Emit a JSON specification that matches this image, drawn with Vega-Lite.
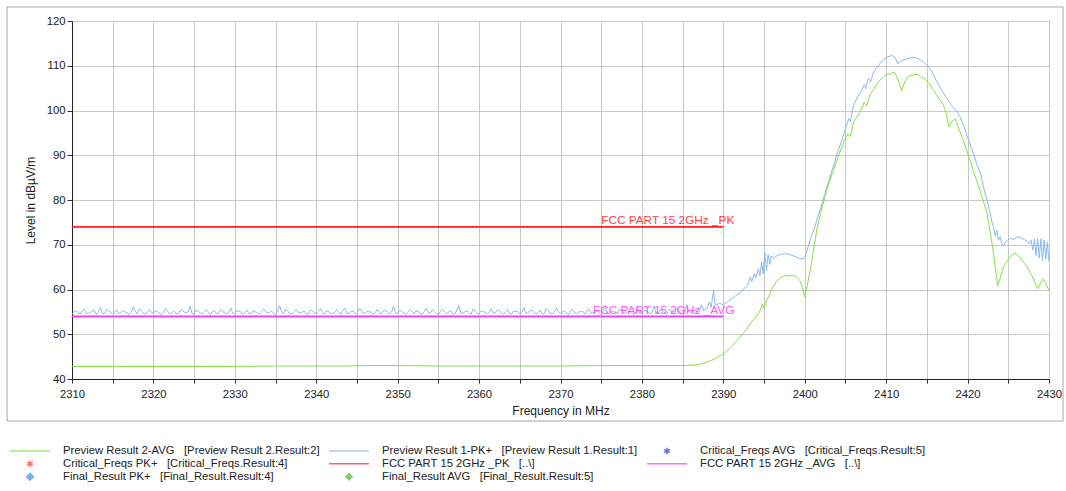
{
"$schema": "https://vega.github.io/schema/vega-lite/v6.json",
"width": 977, "height": 358,
"autosize": "none",
"padding": {"left": 72, "top": 21, "right": 17, "bottom": 112},
"background": "white",
"config": {"font": "Liberation Sans", "view": {"stroke": null},
  "axis": {"titleFontWeight": "normal", "titleColor": "#222", "labelColor": "#222", "gridColor": "#c8c8c8", "gridWidth": 1, "tickColor": "#333", "domainColor": "#222", "labelFontSize": 11.3, "titleFontSize": 12}},
"datasets": {
"curves": [
{"s":"P1","f":2310,"v":54.6},{"s":"P1","f":2310.5,"v":55.3},{"s":"P1","f":2311,"v":54.5},{"s":"P1","f":2311.5,"v":55.6},{"s":"P1","f":2312,"v":54.7},{"s":"P1","f":2312.5,"v":55.1},{"s":"P1","f":2313,"v":54.4},{"s":"P1","f":2313.5,"v":55.9},{"s":"P1","f":2314,"v":54.6},{"s":"P1","f":2314.5,"v":55.2},
{"s":"P1","f":2315,"v":54.5},{"s":"P1","f":2315.5,"v":55.4},{"s":"P1","f":2316,"v":54.8},{"s":"P1","f":2316.5,"v":55.0},{"s":"P1","f":2317,"v":54.4},{"s":"P1","f":2317.5,"v":56.1},{"s":"P1","f":2318,"v":54.6},{"s":"P1","f":2318.5,"v":55.3},{"s":"P1","f":2319,"v":54.5},{"s":"P1","f":2319.5,"v":55.5},
{"s":"P1","f":2320,"v":54.7},{"s":"P1","f":2320.5,"v":55.1},{"s":"P1","f":2321,"v":54.4},{"s":"P1","f":2321.5,"v":55.7},{"s":"P1","f":2322,"v":54.6},{"s":"P1","f":2322.5,"v":55.2},{"s":"P1","f":2323,"v":54.5},{"s":"P1","f":2323.5,"v":55.4},{"s":"P1","f":2324,"v":54.8},{"s":"P1","f":2324.5,"v":56.2},
{"s":"P1","f":2325,"v":54.5},{"s":"P1","f":2325.5,"v":55.1},{"s":"P1","f":2326,"v":54.6},{"s":"P1","f":2326.5,"v":55.5},{"s":"P1","f":2327,"v":54.4},{"s":"P1","f":2327.5,"v":55.3},{"s":"P1","f":2328,"v":54.7},{"s":"P1","f":2328.5,"v":55.0},{"s":"P1","f":2329,"v":54.5},{"s":"P1","f":2329.5,"v":55.8},
{"s":"P1","f":2330,"v":54.6},{"s":"P1","f":2330.5,"v":55.2},{"s":"P1","f":2331,"v":54.4},{"s":"P1","f":2331.5,"v":55.4},{"s":"P1","f":2332,"v":54.7},{"s":"P1","f":2332.5,"v":55.1},{"s":"P1","f":2333,"v":54.5},{"s":"P1","f":2333.5,"v":55.6},{"s":"P1","f":2334,"v":54.8},{"s":"P1","f":2334.5,"v":55.2},
{"s":"P1","f":2335,"v":54.4},{"s":"P1","f":2335.5,"v":56.4},{"s":"P1","f":2336,"v":54.6},{"s":"P1","f":2336.5,"v":55.1},{"s":"P1","f":2337,"v":54.5},{"s":"P1","f":2337.5,"v":55.5},{"s":"P1","f":2338,"v":54.7},{"s":"P1","f":2338.5,"v":55.2},{"s":"P1","f":2339,"v":54.4},{"s":"P1","f":2339.5,"v":55.3},
{"s":"P1","f":2340,"v":54.6},{"s":"P1","f":2340.5,"v":55.7},{"s":"P1","f":2341,"v":54.5},{"s":"P1","f":2341.5,"v":55.1},{"s":"P1","f":2342,"v":54.7},{"s":"P1","f":2342.5,"v":55.4},{"s":"P1","f":2343,"v":54.4},{"s":"P1","f":2343.5,"v":55.9},{"s":"P1","f":2344,"v":54.6},{"s":"P1","f":2344.5,"v":55.2},
{"s":"P1","f":2345,"v":54.5},{"s":"P1","f":2345.5,"v":55.5},{"s":"P1","f":2346,"v":54.8},{"s":"P1","f":2346.5,"v":55.0},{"s":"P1","f":2347,"v":54.4},{"s":"P1","f":2347.5,"v":55.6},{"s":"P1","f":2348,"v":54.6},{"s":"P1","f":2348.5,"v":55.3},{"s":"P1","f":2349,"v":54.5},{"s":"P1","f":2349.5,"v":56.2},
{"s":"P1","f":2350,"v":54.7},{"s":"P1","f":2350.5,"v":55.1},{"s":"P1","f":2351,"v":54.4},{"s":"P1","f":2351.5,"v":55.4},{"s":"P1","f":2352,"v":54.6},{"s":"P1","f":2352.5,"v":55.2},{"s":"P1","f":2353,"v":54.5},{"s":"P1","f":2353.5,"v":55.8},{"s":"P1","f":2354,"v":54.7},{"s":"P1","f":2354.5,"v":55.1},
{"s":"P1","f":2355,"v":54.4},{"s":"P1","f":2355.5,"v":55.5},{"s":"P1","f":2356,"v":54.6},{"s":"P1","f":2356.5,"v":55.3},{"s":"P1","f":2357,"v":54.5},{"s":"P1","f":2357.5,"v":56.5},{"s":"P1","f":2358,"v":54.7},{"s":"P1","f":2358.5,"v":55.2},{"s":"P1","f":2359,"v":54.4},{"s":"P1","f":2359.5,"v":55.4},
{"s":"P1","f":2360,"v":54.6},{"s":"P1","f":2360.5,"v":55.0},{"s":"P1","f":2361,"v":54.5},{"s":"P1","f":2361.5,"v":55.7},{"s":"P1","f":2362,"v":54.8},{"s":"P1","f":2362.5,"v":55.2},{"s":"P1","f":2363,"v":54.4},{"s":"P1","f":2363.5,"v":55.5},{"s":"P1","f":2364,"v":54.6},{"s":"P1","f":2364.5,"v":55.1},
{"s":"P1","f":2365,"v":54.5},{"s":"P1","f":2365.5,"v":56.0},{"s":"P1","f":2366,"v":54.7},{"s":"P1","f":2366.5,"v":55.3},{"s":"P1","f":2367,"v":54.4},{"s":"P1","f":2367.5,"v":55.4},{"s":"P1","f":2368,"v":54.6},{"s":"P1","f":2368.5,"v":55.1},{"s":"P1","f":2369,"v":54.5},{"s":"P1","f":2369.5,"v":55.8},
{"s":"P1","f":2370,"v":54.7},{"s":"P1","f":2370.5,"v":55.2},{"s":"P1","f":2371,"v":54.4},{"s":"P1","f":2371.5,"v":55.5},{"s":"P1","f":2372,"v":54.6},{"s":"P1","f":2372.5,"v":55.0},{"s":"P1","f":2373,"v":54.5},{"s":"P1","f":2373.5,"v":55.6},{"s":"P1","f":2374,"v":54.8},{"s":"P1","f":2374.5,"v":55.3},
{"s":"P1","f":2375,"v":54.4},{"s":"P1","f":2375.5,"v":56.1},{"s":"P1","f":2376,"v":54.6},{"s":"P1","f":2376.5,"v":55.2},{"s":"P1","f":2377,"v":54.5},{"s":"P1","f":2377.5,"v":55.4},{"s":"P1","f":2378,"v":54.7},{"s":"P1","f":2378.5,"v":55.1},{"s":"P1","f":2379,"v":54.4},{"s":"P1","f":2379.5,"v":55.7},
{"s":"P1","f":2380,"v":54.6},{"s":"P1","f":2380.5,"v":55.3},{"s":"P1","f":2381,"v":54.5},{"s":"P1","f":2381.5,"v":56.3},{"s":"P1","f":2382,"v":54.7},{"s":"P1","f":2382.5,"v":55.2},{"s":"P1","f":2383,"v":54.4},{"s":"P1","f":2383.5,"v":55.6},{"s":"P1","f":2384,"v":54.6},{"s":"P1","f":2384.5,"v":55.4},
{"s":"P1","f":2385,"v":54.5},{"s":"P1","f":2385.5,"v":56.6},{"s":"P1","f":2386,"v":54.8},{"s":"P1","f":2386.5,"v":55.4},{"s":"P1","f":2387,"v":54.9},{"s":"P1","f":2387.3,"v":56.6},{"s":"P1","f":2387.6,"v":55.2},{"s":"P1","f":2388,"v":55.8},{"s":"P1","f":2388.3,"v":57.2},{"s":"P1","f":2388.5,"v":56.0},
{"s":"P1","f":2388.8,"v":59.8},{"s":"P1","f":2389,"v":56.4},{"s":"P1","f":2389.5,"v":56.9},{"s":"P1","f":2390,"v":56.6},{"s":"P1","f":2390.5,"v":57.3},{"s":"P1","f":2391,"v":57.9},{"s":"P1","f":2391.5,"v":58.6},{"s":"P1","f":2392,"v":59.2},{"s":"P1","f":2392.5,"v":60.1},{"s":"P1","f":2393,"v":61.0},
{"s":"P1","f":2393.3,"v":62.8},{"s":"P1","f":2393.5,"v":61.8},{"s":"P1","f":2393.8,"v":63.6},{"s":"P1","f":2394,"v":62.6},{"s":"P1","f":2394.3,"v":64.6},{"s":"P1","f":2394.5,"v":63.0},{"s":"P1","f":2394.7,"v":66.2},{"s":"P1","f":2394.9,"v":63.5},{"s":"P1","f":2395.1,"v":68.3},{"s":"P1","f":2395.3,"v":64.2},
{"s":"P1","f":2395.5,"v":67.8},{"s":"P1","f":2395.7,"v":65.6},{"s":"P1","f":2395.9,"v":67.5},{"s":"P1","f":2396.2,"v":67.0},{"s":"P1","f":2396.6,"v":67.6},{"s":"P1","f":2397,"v":67.8},{"s":"P1","f":2397.5,"v":68.0},{"s":"P1","f":2398,"v":67.9},{"s":"P1","f":2398.5,"v":67.6},{"s":"P1","f":2399,"v":67.2},
{"s":"P1","f":2399.4,"v":66.9},{"s":"P1","f":2399.8,"v":66.8},{"s":"P1","f":2400.1,"v":67.6},{"s":"P1","f":2400.4,"v":69.5},{"s":"P1","f":2400.8,"v":71.8},{"s":"P1","f":2401.2,"v":73.8},{"s":"P1","f":2401.6,"v":76.2},{"s":"P1","f":2402,"v":78.5},{"s":"P1","f":2402.4,"v":81.0},{"s":"P1","f":2402.8,"v":83.4},
{"s":"P1","f":2403.2,"v":85.8},{"s":"P1","f":2403.6,"v":88.0},{"s":"P1","f":2404,"v":90.5},{"s":"P1","f":2404.4,"v":92.5},{"s":"P1","f":2404.8,"v":94.8},{"s":"P1","f":2405.2,"v":97.0},{"s":"P1","f":2405.4,"v":98.2},{"s":"P1","f":2405.6,"v":97.5},{"s":"P1","f":2406,"v":101.2},{"s":"P1","f":2406.5,"v":103.0},
{"s":"P1","f":2407,"v":104.5},{"s":"P1","f":2407.3,"v":105.8},{"s":"P1","f":2407.5,"v":104.9},{"s":"P1","f":2407.8,"v":107.2},{"s":"P1","f":2408.1,"v":106.4},{"s":"P1","f":2408.4,"v":108.3},{"s":"P1","f":2408.8,"v":109.5},{"s":"P1","f":2409.2,"v":110.4},{"s":"P1","f":2409.7,"v":111.4},{"s":"P1","f":2410.2,"v":112.0},
{"s":"P1","f":2410.7,"v":112.3},{"s":"P1","f":2411.1,"v":111.9},{"s":"P1","f":2411.4,"v":110.5},{"s":"P1","f":2411.8,"v":111.0},{"s":"P1","f":2412.2,"v":111.4},{"s":"P1","f":2412.7,"v":111.6},{"s":"P1","f":2413.2,"v":111.9},{"s":"P1","f":2413.6,"v":111.8},{"s":"P1","f":2414.1,"v":111.4},{"s":"P1","f":2414.6,"v":110.8},
{"s":"P1","f":2415,"v":110.1},{"s":"P1","f":2415.4,"v":109.3},{"s":"P1","f":2415.8,"v":108.0},{"s":"P1","f":2416.2,"v":106.5},{"s":"P1","f":2416.6,"v":105.2},{"s":"P1","f":2417,"v":104.0},{"s":"P1","f":2417.5,"v":102.6},{"s":"P1","f":2417.9,"v":101.4},{"s":"P1","f":2418.3,"v":100.6},{"s":"P1","f":2418.7,"v":99.7},
{"s":"P1","f":2419.1,"v":98.5},{"s":"P1","f":2419.5,"v":96.8},{"s":"P1","f":2419.9,"v":94.5},{"s":"P1","f":2420.3,"v":92.5},{"s":"P1","f":2420.7,"v":90.5},{"s":"P1","f":2421.1,"v":88.2},{"s":"P1","f":2421.6,"v":85.8},{"s":"P1","f":2422,"v":82.6},{"s":"P1","f":2422.4,"v":79.8},{"s":"P1","f":2422.8,"v":76.9},
{"s":"P1","f":2423,"v":75.0},{"s":"P1","f":2423.2,"v":73.8},{"s":"P1","f":2423.4,"v":72.0},{"s":"P1","f":2423.6,"v":73.2},{"s":"P1","f":2423.8,"v":71.0},{"s":"P1","f":2424,"v":71.8},{"s":"P1","f":2424.2,"v":70.2},{"s":"P1","f":2424.4,"v":69.8},{"s":"P1","f":2424.7,"v":70.6},{"s":"P1","f":2425,"v":71.1},
{"s":"P1","f":2425.3,"v":71.4},{"s":"P1","f":2425.7,"v":71.2},{"s":"P1","f":2426.1,"v":71.8},{"s":"P1","f":2426.5,"v":71.6},{"s":"P1","f":2426.9,"v":71.2},{"s":"P1","f":2427.3,"v":70.8},{"s":"P1","f":2427.6,"v":70.2},{"s":"P1","f":2427.8,"v":71.0},{"s":"P1","f":2428,"v":68.8},{"s":"P1","f":2428.2,"v":71.2},
{"s":"P1","f":2428.4,"v":67.6},{"s":"P1","f":2428.6,"v":71.4},{"s":"P1","f":2428.8,"v":67.0},{"s":"P1","f":2429,"v":71.3},{"s":"P1","f":2429.2,"v":66.4},{"s":"P1","f":2429.4,"v":71.0},{"s":"P1","f":2429.6,"v":66.8},{"s":"P1","f":2429.8,"v":70.6},{"s":"P1","f":2430,"v":66.2},
{"s":"P1","f":2310.25,"v":55.0},{"s":"P1","f":2310.75,"v":54.8},{"s":"P1","f":2311.25,"v":55.2},{"s":"P1","f":2311.75,"v":54.6},{"s":"P1","f":2312.25,"v":54.9},{"s":"P1","f":2312.75,"v":55.4},{"s":"P1","f":2313.25,"v":55.1},{"s":"P1","f":2313.75,"v":54.7},{"s":"P1","f":2314.25,"v":55.5},{"s":"P1","f":2314.75,"v":54.9},
{"s":"P1","f":2315.25,"v":55.0},{"s":"P1","f":2315.75,"v":54.6},{"s":"P1","f":2316.25,"v":55.3},{"s":"P1","f":2316.75,"v":54.8},{"s":"P1","f":2317.25,"v":54.9},{"s":"P1","f":2317.75,"v":55.2},{"s":"P1","f":2318.25,"v":55.6},{"s":"P1","f":2318.75,"v":54.7},{"s":"P1","f":2319.25,"v":55.0},{"s":"P1","f":2319.75,"v":54.9},
{"s":"P1","f":2320.25,"v":55.3},{"s":"P1","f":2320.75,"v":54.6},{"s":"P1","f":2321.25,"v":55.0},{"s":"P1","f":2321.75,"v":55.1},{"s":"P1","f":2322.25,"v":54.8},{"s":"P1","f":2322.75,"v":54.7},{"s":"P1","f":2323.25,"v":55.2},{"s":"P1","f":2323.75,"v":55.0},{"s":"P1","f":2324.25,"v":55.0},{"s":"P1","f":2324.75,"v":54.6},
{"s":"P1","f":2325.25,"v":55.4},{"s":"P1","f":2325.75,"v":54.8},{"s":"P1","f":2326.25,"v":54.9},{"s":"P1","f":2326.75,"v":55.0},{"s":"P1","f":2327.25,"v":55.1},{"s":"P1","f":2327.75,"v":54.6},{"s":"P1","f":2328.25,"v":55.5},{"s":"P1","f":2328.75,"v":54.9},{"s":"P1","f":2329.25,"v":55.0},{"s":"P1","f":2329.75,"v":54.7},
{"s":"P1","f":2330.25,"v":55.2},{"s":"P1","f":2330.75,"v":55.0},{"s":"P1","f":2331.25,"v":54.9},{"s":"P1","f":2331.75,"v":54.6},{"s":"P1","f":2332.25,"v":55.3},{"s":"P1","f":2332.75,"v":54.8},{"s":"P1","f":2333.25,"v":55.0},{"s":"P1","f":2333.75,"v":55.1},{"s":"P1","f":2334.25,"v":54.8},{"s":"P1","f":2334.75,"v":54.6},
{"s":"P1","f":2335.25,"v":55.2},{"s":"P1","f":2335.75,"v":54.9},{"s":"P1","f":2336.25,"v":55.6},{"s":"P1","f":2336.75,"v":54.7},{"s":"P1","f":2337.25,"v":55.0},{"s":"P1","f":2337.75,"v":55.0},{"s":"P1","f":2338.25,"v":54.9},{"s":"P1","f":2338.75,"v":54.6},{"s":"P1","f":2339.25,"v":55.4},{"s":"P1","f":2339.75,"v":54.8},
{"s":"P1","f":2340.25,"v":55.1},{"s":"P1","f":2340.75,"v":54.9},{"s":"P1","f":2341.25,"v":55.3},{"s":"P1","f":2341.75,"v":54.6},{"s":"P1","f":2342.25,"v":54.9},{"s":"P1","f":2342.75,"v":55.0},{"s":"P1","f":2343.25,"v":55.2},{"s":"P1","f":2343.75,"v":54.7},{"s":"P1","f":2344.25,"v":55.0},{"s":"P1","f":2344.75,"v":54.8},
{"s":"P1","f":2345.25,"v":55.7},{"s":"P1","f":2345.75,"v":54.6},{"s":"P1","f":2346.25,"v":55.1},{"s":"P1","f":2346.75,"v":55.0},{"s":"P1","f":2347.25,"v":54.9},{"s":"P1","f":2347.75,"v":54.7},{"s":"P1","f":2348.25,"v":55.3},{"s":"P1","f":2348.75,"v":54.9},{"s":"P1","f":2349.25,"v":55.0},{"s":"P1","f":2349.75,"v":54.6},
{"s":"P1","f":2350.25,"v":55.4},{"s":"P1","f":2350.75,"v":54.8},{"s":"P1","f":2351.25,"v":54.9},{"s":"P1","f":2351.75,"v":55.1},{"s":"P1","f":2352.25,"v":55.2},{"s":"P1","f":2352.75,"v":54.6},{"s":"P1","f":2353.25,"v":55.0},{"s":"P1","f":2353.75,"v":54.9},{"s":"P1","f":2354.25,"v":55.5},{"s":"P1","f":2354.75,"v":54.7},
{"s":"P1","f":2355.25,"v":55.1},{"s":"P1","f":2355.75,"v":55.0},{"s":"P1","f":2356.25,"v":54.9},{"s":"P1","f":2356.75,"v":54.6},{"s":"P1","f":2357.25,"v":55.3},{"s":"P1","f":2357.75,"v":54.8},{"s":"P1","f":2358.25,"v":55.0},{"s":"P1","f":2358.75,"v":54.9},{"s":"P1","f":2359.25,"v":55.6},{"s":"P1","f":2359.75,"v":54.6},
{"s":"P1","f":2360.25,"v":55.2},{"s":"P1","f":2360.75,"v":55.0},{"s":"P1","f":2361.25,"v":54.9},{"s":"P1","f":2361.75,"v":54.7},{"s":"P1","f":2362.25,"v":55.4},{"s":"P1","f":2362.75,"v":54.8},{"s":"P1","f":2363.25,"v":55.0},{"s":"P1","f":2363.75,"v":54.6},{"s":"P1","f":2364.25,"v":55.2},{"s":"P1","f":2364.75,"v":55.1},
{"s":"P1","f":2365.25,"v":54.9},{"s":"P1","f":2365.75,"v":54.7},{"s":"P1","f":2366.25,"v":55.3},{"s":"P1","f":2366.75,"v":54.9},{"s":"P1","f":2367.25,"v":55.0},{"s":"P1","f":2367.75,"v":54.6},{"s":"P1","f":2368.25,"v":55.7},{"s":"P1","f":2368.75,"v":54.8},{"s":"P1","f":2369.25,"v":55.1},{"s":"P1","f":2369.75,"v":55.0},
{"s":"P1","f":2370.25,"v":54.9},{"s":"P1","f":2370.75,"v":54.6},{"s":"P1","f":2371.25,"v":55.3},{"s":"P1","f":2371.75,"v":54.8},{"s":"P1","f":2372.25,"v":55.0},{"s":"P1","f":2372.75,"v":55.1},{"s":"P1","f":2373.25,"v":55.2},{"s":"P1","f":2373.75,"v":54.7},{"s":"P1","f":2374.25,"v":54.9},{"s":"P1","f":2374.75,"v":54.9},
{"s":"P1","f":2375.25,"v":55.4},{"s":"P1","f":2375.75,"v":54.6},{"s":"P1","f":2376.25,"v":55.0},{"s":"P1","f":2376.75,"v":55.0},{"s":"P1","f":2377.25,"v":55.6},{"s":"P1","f":2377.75,"v":54.7},{"s":"P1","f":2378.25,"v":55.1},{"s":"P1","f":2378.75,"v":54.8},{"s":"P1","f":2379.25,"v":54.9},{"s":"P1","f":2379.75,"v":54.6},
{"s":"P1","f":2380.25,"v":55.3},{"s":"P1","f":2380.75,"v":55.0},{"s":"P1","f":2381.25,"v":55.0},{"s":"P1","f":2381.75,"v":54.7},{"s":"P1","f":2382.25,"v":55.5},{"s":"P1","f":2382.75,"v":54.9},{"s":"P1","f":2383.25,"v":55.1},{"s":"P1","f":2383.75,"v":54.6},{"s":"P1","f":2384.25,"v":55.8},{"s":"P1","f":2384.75,"v":54.8},
{"s":"P1","f":2385.25,"v":55.2},{"s":"P1","f":2385.75,"v":55.1},
{"s":"P2","f":2310,"v":42.8},{"s":"P2","f":2315,"v":42.8},{"s":"P2","f":2320,"v":42.8},{"s":"P2","f":2325,"v":42.8},{"s":"P2","f":2330,"v":42.8},{"s":"P2","f":2335,"v":42.9},{"s":"P2","f":2340,"v":42.9},{"s":"P2","f":2344,"v":42.9},{"s":"P2","f":2346,"v":43.0},{"s":"P2","f":2350,"v":43.0},
{"s":"P2","f":2355,"v":42.9},{"s":"P2","f":2360,"v":42.9},{"s":"P2","f":2365,"v":42.9},{"s":"P2","f":2370,"v":42.9},{"s":"P2","f":2375,"v":43.0},{"s":"P2","f":2380,"v":43.0},{"s":"P2","f":2385,"v":43.0},{"s":"P2","f":2386,"v":43.1},{"s":"P2","f":2387,"v":43.2},{"s":"P2","f":2388,"v":43.8},
{"s":"P2","f":2389,"v":44.5},{"s":"P2","f":2390,"v":45.6},{"s":"P2","f":2391,"v":47.2},{"s":"P2","f":2391.5,"v":48.3},{"s":"P2","f":2392,"v":49.2},{"s":"P2","f":2392.5,"v":50.3},{"s":"P2","f":2393,"v":51.5},{"s":"P2","f":2393.5,"v":52.8},{"s":"P2","f":2394,"v":53.9},{"s":"P2","f":2394.5,"v":55.2},
{"s":"P2","f":2394.8,"v":56.8},{"s":"P2","f":2395,"v":55.8},{"s":"P2","f":2395.3,"v":57.5},{"s":"P2","f":2395.6,"v":58.6},{"s":"P2","f":2396,"v":60.2},{"s":"P2","f":2396.5,"v":61.8},{"s":"P2","f":2397,"v":62.6},{"s":"P2","f":2397.5,"v":63.1},{"s":"P2","f":2398,"v":63.0},{"s":"P2","f":2398.5,"v":63.2},
{"s":"P2","f":2399,"v":62.8},{"s":"P2","f":2399.4,"v":62.0},{"s":"P2","f":2399.7,"v":60.5},{"s":"P2","f":2400,"v":58.3},{"s":"P2","f":2400.3,"v":60.8},{"s":"P2","f":2400.7,"v":64.5},{"s":"P2","f":2401,"v":68.0},{"s":"P2","f":2401.5,"v":73.5},{"s":"P2","f":2402,"v":77.5},{"s":"P2","f":2402.5,"v":80.8},
{"s":"P2","f":2403,"v":84.0},{"s":"P2","f":2403.5,"v":86.5},{"s":"P2","f":2404,"v":89.2},{"s":"P2","f":2404.5,"v":91.5},{"s":"P2","f":2405,"v":93.8},{"s":"P2","f":2405.3,"v":94.8},{"s":"P2","f":2405.6,"v":94.2},{"s":"P2","f":2406,"v":97.5},{"s":"P2","f":2406.5,"v":98.8},{"s":"P2","f":2407,"v":100.5},
{"s":"P2","f":2407.3,"v":101.8},{"s":"P2","f":2407.6,"v":101.0},{"s":"P2","f":2408,"v":103.5},{"s":"P2","f":2408.5,"v":104.8},{"s":"P2","f":2409,"v":106.2},{"s":"P2","f":2409.5,"v":107.3},{"s":"P2","f":2410,"v":108.0},{"s":"P2","f":2410.5,"v":108.2},{"s":"P2","f":2411,"v":108.6},{"s":"P2","f":2411.5,"v":106.8},
{"s":"P2","f":2411.9,"v":104.4},{"s":"P2","f":2412.3,"v":106.5},{"s":"P2","f":2412.7,"v":107.6},{"s":"P2","f":2413.2,"v":107.9},{"s":"P2","f":2413.8,"v":108.1},{"s":"P2","f":2414.3,"v":107.5},{"s":"P2","f":2414.8,"v":107.0},{"s":"P2","f":2415.3,"v":106.0},{"s":"P2","f":2415.8,"v":104.4},{"s":"P2","f":2416.3,"v":103.2},
{"s":"P2","f":2417,"v":101.4},{"s":"P2","f":2417.4,"v":99.2},{"s":"P2","f":2417.7,"v":96.4},{"s":"P2","f":2418.1,"v":97.6},{"s":"P2","f":2418.5,"v":98.1},{"s":"P2","f":2419,"v":95.5},{"s":"P2","f":2419.5,"v":93.2},{"s":"P2","f":2420,"v":90.5},{"s":"P2","f":2420.5,"v":87.7},{"s":"P2","f":2421,"v":84.9},
{"s":"P2","f":2421.5,"v":82.3},{"s":"P2","f":2422,"v":79.4},{"s":"P2","f":2422.4,"v":76.9},{"s":"P2","f":2422.8,"v":72.5},{"s":"P2","f":2423.2,"v":68.0},{"s":"P2","f":2423.5,"v":63.5},{"s":"P2","f":2423.7,"v":60.9},{"s":"P2","f":2424,"v":62.5},{"s":"P2","f":2424.4,"v":65.0},{"s":"P2","f":2425,"v":66.8},
{"s":"P2","f":2425.5,"v":67.8},{"s":"P2","f":2425.9,"v":68.1},{"s":"P2","f":2426.4,"v":67.2},{"s":"P2","f":2426.9,"v":66.0},{"s":"P2","f":2427.3,"v":65.1},{"s":"P2","f":2427.8,"v":63.5},{"s":"P2","f":2428.3,"v":61.5},{"s":"P2","f":2428.6,"v":60.2},{"s":"P2","f":2429,"v":61.5},{"s":"P2","f":2429.3,"v":62.4},
{"s":"P2","f":2429.6,"v":61.3},{"s":"P2","f":2430,"v":59.8}
],
"limits": [
{"s":"FPK","name":"FCC PART 15 2GHz _PK","f0":2310,"f1":2390,"v":74},
{"s":"FAVG","name":"FCC PART 15 2GHz _AVG","f0":2310,"f1":2390,"v":54}
],
"finals": []
},
"layer": [
{
 "data": {"values": [{}]},
 "mark": {"type": "rect", "filled": false, "color": "#a8a8a8", "strokeWidth": 1},
 "encoding": {
  "x": {"datum": 2302.02, "type": "quantitative"},
  "x2": {"datum": 2431.72},
  "y": {"datum": 123.13, "type": "quantitative"},
  "y2": {"datum": 30.61}
 }
},
{
 "data": {"name": "curves"},
 "mark": {"type": "line", "strokeWidth": 1, "interpolate": "linear"},
 "encoding": {
  "x": {"field": "f", "type": "quantitative",
    "scale": {"domain": [2310, 2430], "nice": false, "zero": false},
    "axis": {"title": "Frequency in MHz", "values": [2310,2315,2320,2325,2330,2335,2340,2345,2350,2355,2360,2365,2370,2375,2380,2385,2390,2395,2400,2405,2410,2415,2420,2425,2430],
      "labelExpr": "datum.value % 10 === 0 ? datum.label : ''", "format": "d", "labelFlush": false, "labelOverlap": false, "grid": true, "tickSize": 4, "labelPadding": 5, "titlePadding": 6}},
  "y": {"field": "v", "type": "quantitative",
    "scale": {"domain": [40, 120], "nice": false, "zero": false},
    "axis": {"title": "Level in dBµV/m", "values": [40,45,50,55,60,65,70,75,80,85,90,95,100,105,110,115,120],
      "labelExpr": "datum.value % 10 === 0 ? datum.label : ''", "format": "d", "labelFlush": false, "labelOverlap": false, "grid": true, "tickSize": 5, "labelPadding": 2, "titlePadding": 9}},
  "color": {"field": "s", "type": "nominal", "title": null},
  "order": {"field": "f", "type": "quantitative"}
 }
},
{
 "data": {"name": "limits"},
 "mark": {"type": "rule", "strokeWidth": 1.8},
 "encoding": {
  "x": {"field": "f0", "type": "quantitative"},
  "x2": {"field": "f1"},
  "y": {"field": "v", "type": "quantitative"},
  "color": {"field": "s", "type": "nominal", "title": null}
 }
},
{
 "data": {"name": "limits"},
 "mark": {"type": "text", "align": "right", "baseline": "alphabetic", "dx": 11, "dy": -2.5, "fontSize": 11.8, "opacity": 0.85},
 "encoding": {
  "x": {"field": "f1", "type": "quantitative"},
  "y": {"field": "v", "type": "quantitative"},
  "text": {"field": "name"},
  "color": {"field": "s", "type": "nominal", "title": null}
 }
},
{
 "data": {"name": "finals"},
 "mark": {"type": "point", "filled": true},
 "encoding": {
  "x": {"field": "f", "type": "quantitative"},
  "y": {"field": "v", "type": "quantitative"},
  "color": {"field": "s", "type": "nominal", "title": null,
    "scale": {"domain": ["P2","CFP","FRP","P1","FPK","FRA","CFA","FAVG"],
              "range": ["#84e046","#ff2a2a","#3a8fe0","#88b9f0","#ff2020","#55b52e","#2a2ad8","#ff33ff"]},
    "legend": {"orient": "none", "legendX": -63, "legendY": 424, "columns": 3, "clipHeight": 11.5, "rowPadding": 0, "columnPadding": 8,
      "labelOffset": 12, "labelLimit": 500, "labelFontSize": 11.3, "labelColor": "#222", "title": null,
      "labelExpr": "datum.value === 'P2' ? 'Preview Result 2-AVG\u00a0\u00a0\u00a0[Preview Result 2.Result:2]' : datum.value === 'P1' ? 'Preview Result 1-PK+\u00a0\u00a0\u00a0[Preview Result 1.Result:1]' : datum.value === 'CFA' ? 'Critical_Freqs AVG\u00a0\u00a0\u00a0[Critical_Freqs.Result:5]' : datum.value === 'CFP' ? 'Critical_Freqs PK+\u00a0\u00a0\u00a0[Critical_Freqs.Result:4]' : datum.value === 'FPK' ? 'FCC PART 15 2GHz _PK\u00a0\u00a0\u00a0[..\\\\]' : datum.value === 'FAVG' ? 'FCC PART 15 2GHz _AVG\u00a0\u00a0\u00a0[..\\\\]' : datum.value === 'FRP' ? 'Final_Result PK+\u00a0\u00a0\u00a0[Final_Result.Result:4]' : 'Final_Result AVG\u00a0\u00a0\u00a0[Final_Result.Result:5]'",
      "encoding": {"symbols": {"update": {
        "fill": {"scale": "color", "field": "value"},
        "stroke": {"scale": "color", "field": "value"},
        "strokeWidth": {"signal": "datum.value === 'FPK' || datum.value === 'FAVG' ? 2 : 1"},
        "opacity": {"value": 1}}}}}},
  "shape": {"field": "s", "type": "nominal", "title": null,
    "scale": {"domain": ["P2","CFP","FRP","P1","FPK","FRA","CFA","FAVG"],
              "range": ["stroke","M0,-1V1M-0.87,-0.5L0.87,0.5M-0.87,0.5L0.87,-0.5","diamond","stroke","stroke","diamond","M0,-1V1M-0.87,-0.5L0.87,0.5M-0.87,0.5L0.87,-0.5","stroke"]}},
  "size": {"field": "s", "type": "nominal", "title": null,
    "scale": {"type": "ordinal", "domain": ["P2","CFP","FRP","P1","FPK","FRA","CFA","FAVG"],
              "range": [1600,45,45,1600,1600,40,45,1600]}}
 }
}
]
}
